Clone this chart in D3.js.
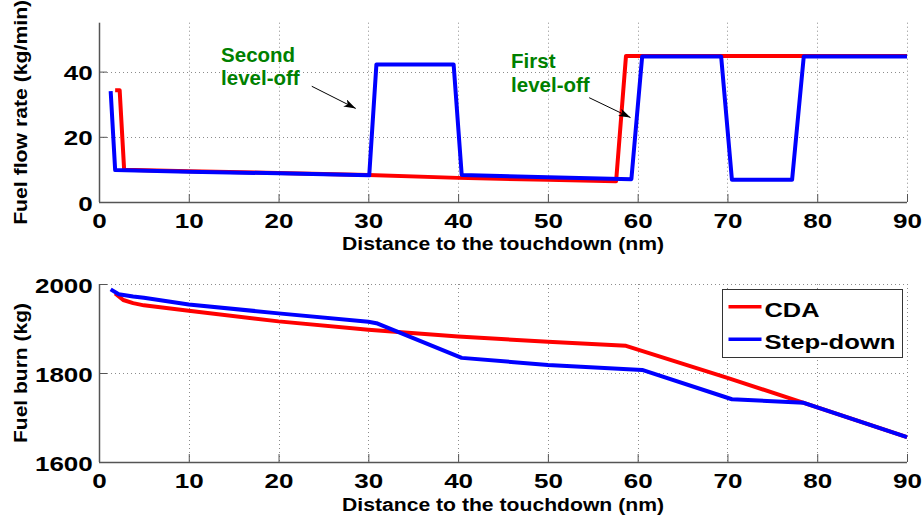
<!DOCTYPE html>
<html>
<head>
<meta charset="utf-8">
<script src="https://cdn.jsdelivr.net/npm/d3@7"></script>
<style>
  html, body { margin: 0; padding: 0; background: #fff; }
  svg { display: block; }
</style>
</head>
<body>
<svg id="chart" width="924" height="517"></svg>
<script>
// ---------------- data ----------------
// Fuel flow rate (kg/min) vs distance to touchdown (nm)
const cdaFlowX  = [1.8, 2.3, 2.8, 10, 20, 30, 40, 50, 57.6, 58.7, 70, 80, 90];
const cdaFlowY  = [34.3, 34.3, 9.9, 9.4, 8.9, 8.3, 7.4, 6.8, 6.4, 44.8, 44.8, 44.8, 44.8];
const stepFlowX = [1.3, 1.8, 10, 20, 30.1, 30.9, 39.5, 40.4, 50, 59.3, 60.5, 69.3, 70.5, 77.2, 78.5, 90];
const stepFlowY = [34, 9.8, 9.3, 8.8, 8.2, 42.2, 42.2, 8.3, 7.6, 7.0, 44.6, 44.6, 6.8, 6.8, 44.6, 44.6];

// Fuel burn (kg) vs distance to touchdown (nm)
const cdaBurnX  = [1.8, 2.7, 3.8, 5, 10, 20, 30, 40, 50, 58.7, 70, 78.5, 90];
const cdaBurnY  = [1979, 1964, 1957, 1952, 1940, 1916, 1897, 1882, 1870, 1861, 1789, 1733, 1656];
const stepBurnX = [1.3, 2.2, 3.8, 5, 10, 20, 30, 30.9, 40.4, 50, 60.5, 70.5, 78.5, 90];
const stepBurnY = [1988, 1977, 1972, 1969, 1954, 1934, 1915, 1912, 1834, 1818, 1807, 1741, 1733, 1656];

const xTicks     = [0, 10, 20, 30, 40, 50, 60, 70, 80, 90];
const flowTicks  = [0, 20, 40];
const burnTicks  = [1600, 1800, 2000];
const seriesNames  = ["CDA", "Step-down"];
const seriesColors = ["#ff0000", "#0000ff"];
const xLabel     = "Distance to the touchdown (nm)";
const flowLabel  = "Fuel flow rate (kg/min)";
const burnLabel  = "Fuel burn (kg)";
const annotations = [
  { lines: ["Second", "level-off"], x: 13.6, y: [42.9, 35.8], from: [23.7, 35.5], to: [28.6, 28.7] },
  { lines: ["First", "level-off"],  x: 45.9, y: [41.1, 33.8], from: [54.6, 32.0], to: [59.2, 25.9] }
];

// ---------------- drawing ----------------
const svg = d3.select("#chart");
const font = "'Liberation Sans', Arial, Helvetica, sans-serif";
const axisColor = "#555";

const defs = svg.append("defs");
defs.append("marker")
  .attr("id", "arrow").attr("viewBox", "0 0 12 8")
  .attr("refX", 12).attr("refY", 4)
  .attr("markerWidth", 12).attr("markerHeight", 8)
  .attr("markerUnits", "userSpaceOnUse")
  .attr("orient", "auto")
  .append("path").attr("d", "M0,0 L12,4 L0,8 L3,4 Z").attr("fill", "#000");

function panel(pTop, pBottom, yDomain, yTicks, yLabelText, xLabelY, yLabelLen) {
  const x = d3.scaleLinear().domain([0, 90]).range([99, 907]);
  const y = d3.scaleLinear().domain(yDomain).range([pBottom, pTop]);
  const g = svg.append("g");

  // grid
  const grid = g.append("g").attr("stroke", "#8c8c8c").attr("stroke-width", 1)
    .attr("stroke-dasharray", "1,3");
  grid.selectAll("line.vx").data(xTicks.filter(d => d > 0)).join("line")
    .attr("x1", d => Math.round(x(d)) + 0.5).attr("x2", d => Math.round(x(d)) + 0.5)
    .attr("y1", pTop).attr("y2", pBottom);
  grid.selectAll("line.hy").data(yTicks.filter(d => d > yDomain[0])).join("line")
    .attr("x1", 99).attr("x2", 907)
    .attr("y1", d => Math.round(y(d)) + 0.5).attr("y2", d => Math.round(y(d)) + 0.5);

  // axes
  const xAxis = g.append("g").attr("transform", `translate(0,${pBottom})`)
    .call(d3.axisBottom(x).tickValues(xTicks).tickSizeInner(-8).tickSizeOuter(0).tickFormat(d3.format("d")));
  const yAxis = g.append("g").attr("transform", `translate(99,0)`)
    .call(d3.axisLeft(y).tickValues(yTicks).tickSizeInner(-8).tickSizeOuter(0).tickFormat(d3.format("d")));
  [xAxis, yAxis].forEach(a => {
    a.select(".domain").attr("stroke", axisColor).attr("stroke-width", 1.5);
    a.selectAll(".tick line").attr("stroke", axisColor).attr("stroke-width", 1);
    a.selectAll("text").attr("fill", "#000")
      .style("font-family", font).style("font-weight", "bold").style("font-size", "21px");
  });
  yAxis.select(".domain").attr("d", `M0.5,${pBottom}V${pTop}`);
  xAxis.select(".domain").attr("d", `M99,0.5H907`);
  xAxis.selectAll("text").attr("y", 26).attr("dy", null).attr("transform", "scale(1.24,1)");
  yAxis.selectAll("text").attr("x", -5).attr("y", 8).attr("dy", null).attr("transform", "scale(1.24,1)");

  // axis labels
  g.append("text").attr("x", 503).attr("y", xLabelY).attr("text-anchor", "middle")
    .style("font-family", font).style("font-weight", "bold").style("font-size", "18px")
    .attr("textLength", 322).attr("lengthAdjust", "spacingAndGlyphs")
    .text(xLabel);
  g.append("text")
    .attr("transform", `translate(27,${(pTop + pBottom) / 2}) rotate(-90)`)
    .attr("text-anchor", "middle")
    .style("font-family", font).style("font-weight", "bold").style("font-size", "18px")
    .attr("textLength", yLabelLen).attr("lengthAdjust", "spacingAndGlyphs")
    .text(yLabelText);

  return { x, y, g };
}

function drawSeries(p, xs, ys, color) {
  const pts = xs.map((d, i) => [d, ys[i]]);
  p.g.append("path").datum(pts)
    .attr("fill", "none").attr("stroke", color).attr("stroke-width", 4)
    .attr("stroke-linejoin", "round")
    .attr("d", d3.line().x(d => p.x(d[0])).y(d => p.y(d[1])));
}

// top panel
const flowPanel = panel(22.7, 202, [0, 55], flowTicks, flowLabel, 250, 225);
drawSeries(flowPanel, cdaFlowX, cdaFlowY, seriesColors[0]);
drawSeries(flowPanel, stepFlowX, stepFlowY, seriesColors[1]);

annotations.forEach(a => {
  a.lines.forEach((t, i) => {
    flowPanel.g.append("text").attr("x", flowPanel.x(a.x)).attr("y", flowPanel.y(a.y[i]))
      .attr("fill", "#008000")
      .style("font-family", font)
      .style("font-weight", "bold").style("font-size", "20.5px")
      .text(t);
  });
  flowPanel.g.append("line")
    .attr("x1", flowPanel.x(a.from[0])).attr("y1", flowPanel.y(a.from[1]))
    .attr("x2", flowPanel.x(a.to[0])).attr("y2", flowPanel.y(a.to[1]))
    .attr("stroke", "#000").attr("stroke-width", 1)
    .attr("marker-end", "url(#arrow)");
});

// bottom panel
const burnPanel = panel(284, 462, [1600, 2000], burnTicks, burnLabel, 510.5, 140);
drawSeries(burnPanel, cdaBurnX, cdaBurnY, seriesColors[0]);
drawSeries(burnPanel, stepBurnX, stepBurnY, seriesColors[1]);

// legend
const lg = burnPanel.g.append("g");
lg.append("rect").attr("x", 722.5).attr("y", 289.5).attr("width", 180).attr("height", 68)
  .attr("fill", "#fff").attr("stroke", "#333").attr("stroke-width", 1);
const legendLens = [55, 131];
seriesNames.forEach((name, i) => {
  const yy = 306.7 + i * 32.6;
  lg.append("line").attr("x1", 728.5).attr("x2", 761.5).attr("y1", yy).attr("y2", yy)
    .attr("stroke", seriesColors[i]).attr("stroke-width", 3.5);
  lg.append("text").attr("x", 764.5).attr("y", yy + 10)
    .style("font-family", font).style("font-weight", "bold").style("font-size", "20.5px")
    .attr("textLength", legendLens[i]).attr("lengthAdjust", "spacingAndGlyphs")
    .text(name);
});
</script>
</body>
</html>
